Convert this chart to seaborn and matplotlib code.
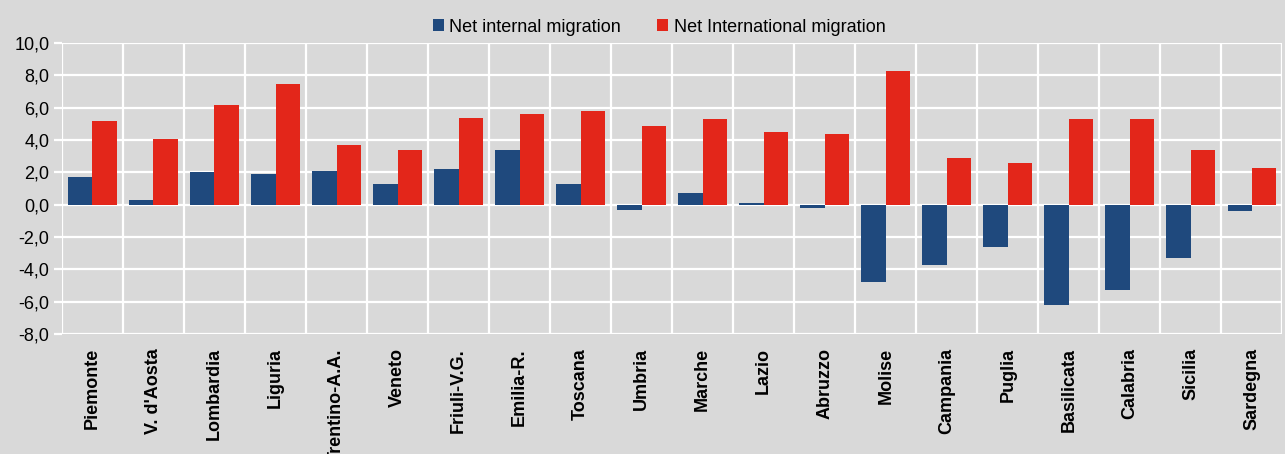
import numpy as np
import pandas as pd
import seaborn as sns
import matplotlib.pyplot as plt
from matplotlib.ticker import FuncFormatter

regions = ["Piemonte", "V. d'Aosta", "Lombardia", "Liguria", "Trentino-A.A.",
           "Veneto", "Friuli-V.G.", "Emilia-R.", "Toscana", "Umbria",
           "Marche", "Lazio", "Abruzzo", "Molise", "Campania",
           "Puglia", "Basilicata", "Calabria", "Sicilia", "Sardegna"]
internal = [1.7, 0.3, 2.0, 1.9, 2.1, 1.3, 2.2, 3.4, 1.3, -0.3,
            0.7, 0.1, -0.2, -4.8, -3.7, -2.6, -6.2, -5.3, -3.3, -0.4]
international = [5.2, 4.1, 6.2, 7.5, 3.7, 3.4, 5.4, 5.6, 5.8, 4.9,
                 5.3, 4.5, 4.4, 8.3, 2.9, 2.6, 5.3, 5.3, 3.4, 2.3]
series_names = ["Net internal migration", "Net International migration"]
colors = ["#1F497D", "#E3261A"]

df = pd.DataFrame({
    "region": regions * 2,
    "series": [series_names[0]] * len(regions) + [series_names[1]] * len(regions),
    "value": internal + international,
})

sns.set_theme(style="white")
plt.rcParams["font.family"] = ["Liberation Sans", "DejaVu Sans"]
plt.rcParams["text.color"] = "black"
bg = "#D9D9D9"

fig = plt.figure(figsize=(12.85, 4.54), dpi=100, facecolor=bg)
ax = fig.add_axes([0.0482, 0.264, 0.9498, 0.641])
ax.set_facecolor(bg)

sns.barplot(data=df, x="region", y="value", hue="series", palette=colors,
            saturation=1, width=0.8, ax=ax, legend=True, edgecolor="none")

ax.set_ylim(-8, 10)
ax.set_xlim(-0.5, len(regions) - 0.5)
ax.set_yticks(np.arange(-8, 11, 2))
ax.yaxis.set_major_formatter(FuncFormatter(lambda v, p: f"{v:.1f}".replace(".", ",")))
ax.set_xticks(np.arange(-0.5, len(regions), 1), minor=True)
ax.grid(axis="y", which="major", color="white", lw=1.6)
ax.grid(axis="x", which="minor", color="white", lw=1.6)
ax.set_axisbelow(True)
for s in ax.spines.values():
    s.set_visible(False)

ax.tick_params(axis="y", which="major", left=True, length=6, width=1.6,
               color="white", labelcolor="black", labelsize=13, pad=3)
ax.tick_params(axis="x", which="both", bottom=False, pad=4, labelcolor="black")
ax.set_xticks(range(len(regions)))
ax.set_xticklabels(regions, rotation=90, fontsize=13, fontweight="bold", va="top")
ax.set_xlabel("")
ax.set_ylabel("")

handles, labels = ax.get_legend_handles_labels()
ax.get_legend().remove()
fig.legend(handles, labels, loc="upper center", bbox_to_anchor=(0.513, 0.995),
           ncol=2, frameon=False, fontsize=13, handlelength=0.6, handleheight=0.6,
           handletextpad=0.3, columnspacing=2.0)

fig.savefig("out.png", dpi=100, facecolor=bg)
